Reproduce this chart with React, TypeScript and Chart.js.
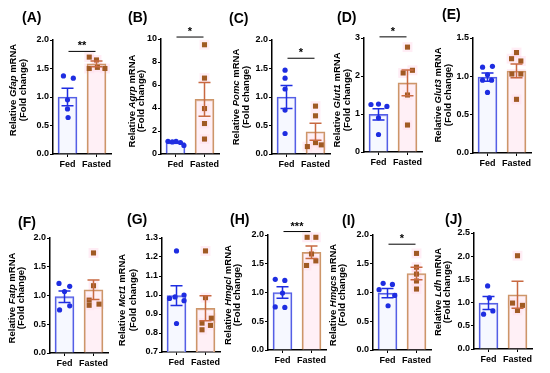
import React, { useEffect, useRef } from 'react';
import { Chart, registerables } from 'chart.js';

Chart.register(...registerables);

const categories = ['Fed', 'Fasted'];
const panelLetters = ['(A)', '(B)', '(C)', '(D)', '(E)', '(F)', '(G)', '(H)', '(I)', '(J)'];
const genes = ['Gfap', 'Agrp', 'Pomc', 'Glut1', 'Glut3', 'Fatp', 'Mct1', 'Hmgcl', 'Hmgcs', 'Ldh'];

const fedMeans = [1.0, 1.0, 1.0, 0.99, 0.99, 0.98, 0.997, 1.0, 0.99, 0.99];
const fedSem = [0.155, 0.06, 0.2, 0.15, 0.055, 0.1, 0.052, 0.1, 0.08, 0.14];
const fastedMeans = [1.58, 4.75, 0.39, 1.82, 1.07, 1.1, 0.93, 1.7, 1.33, 1.17];
const fastedSem = [0.05, 1.47, 0.15, 0.34, 0.09, 0.17, 0.066, 0.11, 0.11, 0.29];

const fedValues = [
  [1.37, 1.33, 0.95, 0.79, 0.64],
  [1.1, 1.05, 1.1, 1.0, 0.75],
  [1.47, 1.33, 1.14, 0.77, 0.36],
  [1.25, 1.26, 1.2, 0.9, 0.46],
  [1.12, 1.13, 1.02, 0.95, 0.95, 0.79],
  [1.21, 1.16, 1.07, 0.82, 0.75],
  [1.232, 0.982, 0.99, 1.0, 0.97, 0.85],
  [1.23, 1.21, 0.99, 0.75, 0.74],
  [1.16, 1.14, 1.05, 0.95, 0.77],
  [1.36, 1.1, 0.75, 0.82],
];
const fedJitter = [
  [-0.14, 0.2, 0, 0, 0.02],
  [-0.26, -0.11, 0.02, 0.17, 0.29],
  [-0.05, -0.05, -0.05, -0.05, -0.05],
  [-0.26, 0, 0.29, 0, 0],
  [-0.17, 0.17, 0, -0.17, 0.14, 0],
  [-0.19, 0.18, 0, 0.18, -0.17],
  [0, -0.24, -0.05, 0.26, 0.26, 0],
  [-0.25, 0.08, 0, -0.25, 0.08],
  [-0.15, 0.17, -0.29, 0.25, 0.02],
  [-0.03, 0.03, -0.17, 0.15],
];
const fastedValues = [
  [1.7, 1.65, 1.5, 1.52, 1.5],
  [9.5, 6.6, 3.95, 2.65, 1.3],
  [0.84, 0.67, 0.13, 0.2, 0.16],
  [2.76, 2.08, 2.15, 1.5, 0.71],
  [1.31, 1.23, 1.2, 1.03, 1.03, 0.7],
  [1.74, 1.17, 0.92, 0.83, 0.85],
  [1.232, 0.986, 0.878, 0.852, 0.84, 0.817],
  [1.96, 1.96, 1.67, 1.47, 1.55],
  [1.68, 1.44, 1.32, 1.2, 1.06],
  [2.01, 0.99, 0.94, 0.83],
];
const fastedJitter = [
  [-0.25, 0, -0.25, 0.03, 0.29],
  [0, 0, 0, 0, 0],
  [0, 0, -0.28, 0, 0.2],
  [0, -0.15, 0.17, 0, 0],
  [0, -0.17, 0.15, -0.16, 0.15, 0],
  [0, 0, -0.15, -0.15, 0.19],
  [0, 0, 0.2, -0.12, 0.17, -0.12],
  [-0.15, 0.15, 0, -0.17, 0.15],
  [0, 0, 0, 0, 0],
  [0, -0.17, 0.17, 0],
];

const yMins = [0, 0, 0, 0, 0, 0, 0.7, 0, 0, 0];
const yMaxs = [2, 10, 2, 3, 1.5, 2, 1.3, 2, 2, 2.5];
const ySteps = [0.5, 2, 0.5, 1, 0.5, 0.5, 0.1, 0.5, 0.5, 0.5];
const tickDecimals = [1, 0, 1, 0, 1, 1, 1, 1, 1, 1];
const sigLabels = ['**', '*', '*', '*', '', '', '', '***', '*', ''];
const sigLevels = [1.8, 10.17, 1.68, 3.03, null, null, null, 2.06, 1.84, null];

// layout (absolute page pixels)
type Lay = { x0: number; x1: number; y0: number; y1: number; ax: number; top: number; zero: number; lx: number; ly: number; t1: number; t2: number; tc: number };
const layouts: Lay[] = [
  { x0: 0, x1: 112, y0: 0, y1: 180, ax: 53, top: 40, zero: 154, lx: 22, ly: 18, t1: 13, t2: 23, tc: 90 },
  { x0: 112, x1: 220, y0: 0, y1: 180, ax: 161, top: 39, zero: 154, lx: 128, ly: 18, t1: 132, t2: 141, tc: 101 },
  { x0: 220, x1: 332, y0: 0, y1: 180, ax: 272, top: 40, zero: 154, lx: 229, ly: 19, t1: 236, t2: 246, tc: 97 },
  { x0: 332, x1: 430, y0: 0, y1: 180, ax: 364, top: 38, zero: 152, lx: 337, ly: 18, t1: 337, t2: 347, tc: 100 },
  { x0: 430, x1: 550, y0: 0, y1: 180, ax: 473, top: 38, zero: 153, lx: 442, ly: 15, t1: 438, t2: 448, tc: 95 },
  { x0: 0, x1: 112, y0: 180, y1: 373, ax: 50, top: 238, zero: 353, lx: 18, ly: 223, t1: 12, t2: 21, tc: 298 },
  { x0: 112, x1: 221, y0: 180, y1: 373, ax: 162, top: 238, zero: 352, lx: 127, ly: 220, t1: 122, t2: 133, tc: 300 },
  { x0: 221, x1: 328, y0: 180, y1: 373, ax: 268, top: 235, zero: 350, lx: 230, ly: 220, t1: 228, t2: 237, tc: 295 },
  { x0: 328, x1: 434, y0: 180, y1: 373, ax: 373, top: 235, zero: 350, lx: 342, ly: 221, t1: 333, t2: 342, tc: 295 },
  { x0: 434, x1: 550, y0: 180, y1: 373, ax: 474, top: 233, zero: 349, lx: 445, ly: 220, t1: 438, t2: 447, tc: 292 },
];

const FAMILY = 'Arial, "Liberation Sans", Helvetica, sans-serif';
const PLOT_W = 58;
const X_AXIS_H = 20;
const FED_POINT = 'rgb(30,45,225)';
const FED_LINE = 'rgb(85,95,230)';
const FAST_POINT = 'rgb(160,90,35)';
const FAST_LINE = 'rgb(205,150,105)';
const FAST_ERR = 'rgb(200,105,65)';

function makeDecor(i: number) {
  const L = layouts[i];
  return {
    id: 'decor' + i,
    afterDatasetsDraw(chart: any) {
      const ctx = chart.ctx;
      const xs = chart.scales.x;
      const ys = chart.scales.y;
      const means = [fedMeans[i], fastedMeans[i]];
      const sems = [fedSem[i], fastedSem[i]];
      const cols = [FED_POINT, FAST_ERR];
      ctx.save();
      for (let k = 0; k < 2; k++) {
        const cx = xs.getPixelForValue(k);
        const yt = ys.getPixelForValue(means[k] + sems[k]);
        const yb = ys.getPixelForValue(means[k] - sems[k]);
        ctx.strokeStyle = cols[k];
        ctx.lineWidth = 1.5;
        ctx.beginPath();
        ctx.moveTo(cx, yt);
        ctx.lineTo(cx, yb);
        ctx.moveTo(cx - 6, yt);
        ctx.lineTo(cx + 6, yt);
        ctx.moveTo(cx - 6, yb);
        ctx.lineTo(cx + 6, yb);
        ctx.stroke();
      }
      ctx.restore();
    },
    afterDraw(chart: any) {
      const ctx = chart.ctx;
      const xs = chart.scales.x;
      const ys = chart.scales.y;
      ctx.save();
      ctx.fillStyle = '#000';
      // panel label
      ctx.font = `bold 14px ${FAMILY}`;
      ctx.textAlign = 'left';
      ctx.textBaseline = 'middle';
      ctx.fillText(panelLetters[i], L.lx - L.x0, L.ly - L.y0);
      // significance
      const lvl = sigLevels[i];
      if (lvl !== null && sigLabels[i]) {
        const yy = ys.getPixelForValue(lvl);
        const xa = xs.getPixelForValue(0) + 1;
        const xb = xs.getPixelForValue(1) - 1;
        ctx.strokeStyle = '#000';
        ctx.lineWidth = 1;
        ctx.beginPath();
        ctx.moveTo(xa, yy);
        ctx.lineTo(xb, yy);
        ctx.stroke();
        ctx.font = `bold 11px ${FAMILY}`;
        ctx.textAlign = 'center';
        ctx.textBaseline = 'alphabetic';
        ctx.fillText(sigLabels[i], (xa + xb) / 2, yy - 2);
      }
      // y title
      const fs = 9.5;
      const bold = `bold ${fs}px ${FAMILY}`;
      const ital = `italic bold ${fs}px ${FAMILY}`;
      const parts: [string, string][] = [['Relative ', bold], [genes[i], ital], [' mRNA', bold]];
      let total = 0;
      for (const [t, f] of parts) { ctx.font = f; total += ctx.measureText(t).width; }
      ctx.translate(L.t1 - L.x0, L.tc - L.y0);
      ctx.rotate(-Math.PI / 2);
      ctx.textBaseline = 'middle';
      ctx.textAlign = 'left';
      let px = -total / 2;
      for (const [t, f] of parts) { ctx.font = f; ctx.fillText(t, px, 0); px += ctx.measureText(t).width; }
      ctx.setTransform(1, 0, 0, 1, 0, 0);
      ctx.translate(L.t2 - L.x0, L.tc - L.y0);
      ctx.rotate(-Math.PI / 2);
      ctx.font = bold;
      ctx.textAlign = 'center';
      ctx.fillText('(Fold change)', 0, 0);
      ctx.restore();
    },
  };
}

function Panel({ i }: { i: number }) {
  const ref = useRef<HTMLCanvasElement | null>(null);
  const L = layouts[i];
  const w = L.x1 - L.x0;
  const h = L.y1 - L.y0;
  useEffect(() => {
    if (!ref.current) return;
    const fedPts = fedValues[i].map((v, k) => ({ x: 0 + fedJitter[i][k], y: v }));
    const fastPts = fastedValues[i].map((v, k) => ({ x: 1 + fastedJitter[i][k], y: v }));
    const tickFont = { family: FAMILY, size: 9, weight: 'bold' as const };
    const chart = new Chart(ref.current, {
      type: 'bar',
      data: {
        labels: categories,
        datasets: [
          {
            type: 'scatter', xAxisID: 'xs', yAxisID: 'y', data: fastPts, order: 5,
            pointStyle: 'rect', pointRadius: 7, backgroundColor: 'rgba(255,185,215,0.25)', borderWidth: 0, clip: false,
          } as any,
          {
            type: 'bar', xAxisID: 'x', yAxisID: 'y', data: [fedMeans[i], fastedMeans[i]], order: 4, grouped: false,
            backgroundColor: ['rgba(240,244,255,0.6)', 'rgba(255,228,238,0.55)'],
            borderColor: [FED_LINE, FAST_LINE], borderWidth: 1.5, barThickness: 19,
          } as any,
          {
            type: 'scatter', xAxisID: 'xs', yAxisID: 'y', data: fedPts, order: 1,
            pointStyle: 'circle', pointRadius: 2.6, backgroundColor: FED_POINT, borderColor: FED_POINT, borderWidth: 0, clip: false,
          } as any,
          {
            type: 'scatter', xAxisID: 'xs', yAxisID: 'y', data: fastPts, order: 1,
            pointStyle: 'rect', pointRadius: 3.6, backgroundColor: FAST_POINT, borderColor: FAST_POINT, borderWidth: 0, clip: false,
          } as any,
        ],
      },
      options: {
        animation: false,
        responsive: false,
        devicePixelRatio: 1,
        events: [],
        plugins: { legend: { display: false }, tooltip: { enabled: false }, title: { display: false } },
        layout: {
          autoPadding: false,
          padding: {
            left: 0,
            top: L.top - L.y0,
            right: L.x1 - (L.ax + PLOT_W),
            bottom: L.y1 - L.zero - X_AXIS_H,
          },
        },
        scales: {
          x: {
            type: 'category',
            offset: true,
            grid: { offset: false, drawOnChartArea: false, drawTicks: true, tickLength: 3, color: '#000', lineWidth: 1 },
            border: { display: true, color: '#000', width: 1.5 },
            ticks: { font: { family: FAMILY, size: 9, weight: 'bold' }, color: '#000', padding: 2, maxRotation: 0, minRotation: 0, autoSkip: false },
            afterFit: (s: any) => { s.height = X_AXIS_H; s.paddingLeft = 0; s.paddingRight = 0; s.paddingTop = 0; s.paddingBottom = 0; },
          },
          xs: { type: 'linear', axis: 'x', display: false, offset: false, grid: { offset: false }, min: -0.5, max: 1.5 },
          y: {
            type: 'linear',
            min: yMins[i],
            max: yMaxs[i],
            ticks: {
              stepSize: ySteps[i],
              font: tickFont,
              color: '#000',
              padding: 1,
              callback: (v: any) => Number(v).toFixed(tickDecimals[i]),
            },
            grid: { drawOnChartArea: false, drawTicks: true, tickLength: 3, color: '#000', lineWidth: 1 },
            border: { display: true, color: '#000', width: 1.5 },
            afterFit: (s: any) => { s.width = L.ax - L.x0; s.paddingLeft = 0; s.paddingRight = 0; s.paddingTop = 0; s.paddingBottom = 0; },
          },
        },
      } as any,
      plugins: [makeDecor(i)],
    });
    return () => chart.destroy();
  }, [i]);
  return (
    <canvas
      ref={ref}
      width={w}
      height={h}
      style={{ position: 'absolute', left: L.x0, top: L.y0, width: w, height: h, display: 'block' }}
    />
  );
}

export default function App() {
  return (
    <div style={{ position: 'fixed', left: 0, top: 0, width: 550, height: 373, background: '#fff', overflow: 'hidden' }}>
      {layouts.map((_, i) => (
        <Panel key={i} i={i} />
      ))}
    </div>
  );
}
